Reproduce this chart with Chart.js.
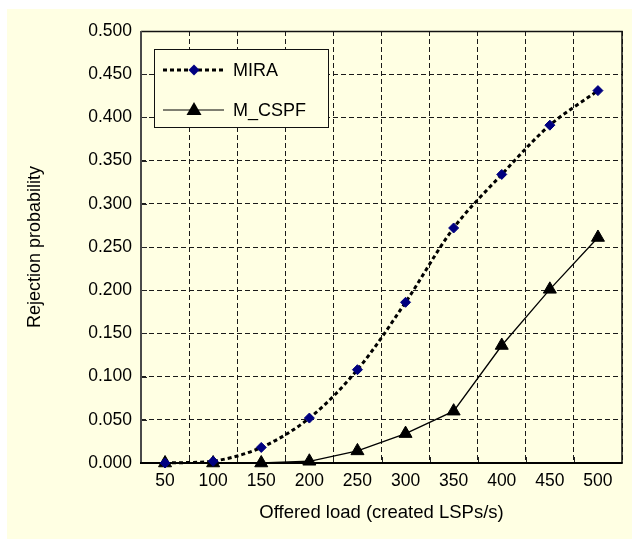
<!DOCTYPE html>
<html>
<head>
<meta charset="utf-8">
<script src="https://cdn.jsdelivr.net/npm/chart.js@4/dist/chart.umd.min.js"></script>
<style>
html,body{margin:0;padding:0;background:#fff;}
canvas{display:block;}
</style>
</head>
<body>
<canvas id="c" width="632" height="539"></canvas>
<script>
const categories = ['50','100','150','200','250','300','350','400','450','500'];
const miraValues = [0.000, 0.002, 0.018, 0.052, 0.108, 0.186, 0.272, 0.334, 0.391, 0.431];
const mcspfValues = [0.000, 0.000, 0.000, 0.002, 0.014, 0.034, 0.060, 0.136, 0.201, 0.261];
const seriesNames = ['MIRA', 'M_CSPF'];
const yTitle = 'Rejection probability';
const xTitle = 'Offered load (created LSPs/s)';

const BG = '#FFFFE3';
const FONT = "'Liberation Sans', Arial, sans-serif";

const framePlugin = {
  id: 'frame',
  beforeDraw(chart) {
    const ctx = chart.ctx;
    ctx.save();
    ctx.fillStyle = '#ffffff';
    ctx.fillRect(0, 0, chart.width, chart.height);
    ctx.fillStyle = BG;
    ctx.fillRect(7, 9, chart.width - 7, chart.height - 9);
    ctx.restore();
  },
  beforeDatasetsDraw(chart) {
    const ctx = chart.ctx;
    const a = chart.chartArea;
    const y = chart.scales.y, x = chart.scales.x;
    ctx.save();
    ctx.strokeStyle = '#222';
    ctx.lineWidth = 1;
    ctx.beginPath();
    y.ticks.forEach((t, i) => {
      const py = Math.round(y.getPixelForTick(i)) + 0.5;
      ctx.moveTo(a.left, py); ctx.lineTo(a.left + 6, py);
    });
    for (let i = 1; i < categories.length; i++) {
      const px = Math.round((x.getPixelForTick(i - 1) + x.getPixelForTick(i)) / 2) + 0.5;
      ctx.moveTo(px, a.bottom); ctx.lineTo(px, a.bottom - 6);
    }
    ctx.stroke();
    ctx.strokeStyle = '#111';
    ctx.lineWidth = 1.5;
    ctx.beginPath();
    ctx.moveTo(a.left, a.top + 0.5); ctx.lineTo(a.right, a.top + 0.5); ctx.lineTo(a.right, a.bottom);
    ctx.stroke();
    ctx.strokeStyle = '#4a4a4a';
    ctx.lineWidth = 2;
    ctx.beginPath();
    ctx.moveTo(a.left, a.top); ctx.lineTo(a.left, a.bottom + 1);
    ctx.stroke();
    ctx.strokeStyle = '#000';
    ctx.lineWidth = 2;
    ctx.beginPath();
    ctx.moveTo(a.left - 1, a.bottom); ctx.lineTo(a.right + 0.75, a.bottom);
    ctx.stroke();
    ctx.restore();
  },
  afterDraw(chart) {
    const ctx = chart.ctx;
    ctx.save();
    const bx = 154.5, by = 49.5, bw = 174, bh = 78;
    ctx.fillStyle = BG;
    ctx.fillRect(bx, by, bw, bh);
    ctx.strokeStyle = '#111';
    ctx.lineWidth = 1;
    ctx.strokeRect(bx, by, bw, bh);
    const rows = [70, 110];
    ctx.strokeStyle = '#000';
    ctx.lineWidth = 3;
    ctx.setLineDash([4, 3]);
    ctx.beginPath(); ctx.moveTo(163, rows[0]); ctx.lineTo(224, rows[0]); ctx.stroke();
    ctx.setLineDash([]);
    ctx.fillStyle = '#000080';
    ctx.beginPath();
    const r = 5.5;
    ctx.moveTo(194, rows[0] - r); ctx.lineTo(194 + r, rows[0]); ctx.lineTo(194, rows[0] + r); ctx.lineTo(194 - r, rows[0]);
    ctx.closePath(); ctx.fill();
    ctx.strokeStyle = '#000';
    ctx.lineWidth = 1;
    ctx.beginPath(); ctx.moveTo(163, rows[1]); ctx.lineTo(224, rows[1]); ctx.stroke();
    ctx.fillStyle = '#000';
    ctx.beginPath();
    ctx.moveTo(194, rows[1] - 8); ctx.lineTo(201.5, rows[1] + 5); ctx.lineTo(186.5, rows[1] + 5);
    ctx.closePath(); ctx.fill();
    ctx.fillStyle = '#000';
    ctx.font = '18px ' + FONT;
    ctx.textBaseline = 'middle';
    ctx.textAlign = 'left';
    ctx.fillText(seriesNames[0], 233, rows[0] + 1);
    ctx.fillText(seriesNames[1], 233, rows[1] + 1);
    ctx.restore();
  }
};

new Chart(document.getElementById('c'), {
  type: 'line',
  data: {
    labels: categories,
    datasets: [
      {
        label: seriesNames[0],
        data: miraValues,
        borderColor: '#000',
        borderWidth: 3,
        borderDash: [4, 3],
        tension: 0.33,
        pointStyle: 'rectRot',
        pointRadius: 5,
        pointBorderWidth: 1,
        pointBackgroundColor: '#000080',
        pointBorderColor: '#000080',
        clip: false,
        fill: false
      },
      {
        label: seriesNames[1],
        data: mcspfValues,
        borderColor: '#000',
        borderWidth: 1.3,
        tension: 0,
        pointStyle: 'triangle',
        pointRadius: 7.5,
        pointBorderWidth: 1,
        pointBackgroundColor: '#000',
        pointBorderColor: '#000',
        clip: false,
        fill: false
      }
    ]
  },
  options: {
    responsive: false,
    animation: false,
    devicePixelRatio: 1,
    layout: { padding: { top: 31, right: 10, left: 0, bottom: 0 } },
    plugins: { legend: { display: false }, tooltip: { enabled: false } },
    scales: {
      x: {
        type: 'category',
        offset: true,
        grid: { offset: true, drawTicks: false, color: '#1a1a1a', lineWidth: 1 },
        border: { display: false, dash: [5, 3] },
        ticks: { color: '#000', padding: 8, font: { family: FONT, size: 17.5 }, maxRotation: 0 },
        title: { display: true, text: xTitle, color: '#000', font: { family: FONT, size: 18.5 }, padding: { top: 0, bottom: 15 } },
        afterFit(s) { s.height = 76; }
      },
      y: {
        min: 0,
        max: 0.5,
        ticks: {
          stepSize: 0.05,
          color: '#000',
          padding: 9,
          font: { family: FONT, size: 17.5 },
          callback: (v) => Number(v).toFixed(3)
        },
        grid: { drawTicks: false, color: '#1a1a1a', lineWidth: 1 },
        border: { display: false, dash: [5, 3] },
        title: { display: true, text: yTitle, color: '#000', font: { family: FONT, size: 18 }, padding: { top: 24, bottom: 0 } },
        afterFit(s) { s.width = 141; }
      }
    }
  },
  plugins: [framePlugin]
});
</script>
</body>
</html>
